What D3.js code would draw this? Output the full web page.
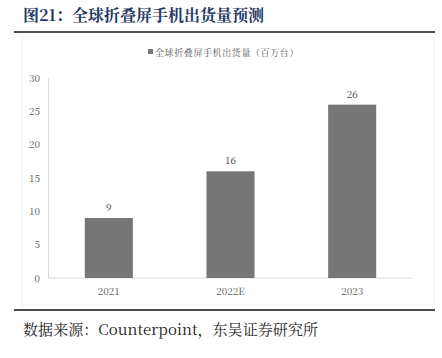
<!DOCTYPE html>
<html><head><meta charset="utf-8">
<script src="https://cdn.jsdelivr.net/npm/d3@7"></script>
<style>body{margin:0;background:#fff;}svg{display:block;}</style>
</head><body>
<svg id="c" width="442" height="358"></svg>
<script>
const categories = ["2021", "2022E", "2023"];
const shipments = [9, 16, 26];
const yTicks = [0, 5, 10, 15, 20, 25, 30];
const titleText = "图21：全球折叠屏手机出货量预测";
const legendText = "全球折叠屏手机出货量（百万台）";
const sourceText = "数据来源：Counterpoint，东吴证券研究所";

const svg = d3.select("#c");
const serif = "'Noto Serif CJK SC',serif";
const song = "'Noto Serif CJK SC',serif";

svg.append("text").attr("x", 23).attr("y", 21)
  .attr("font-family", song).attr("font-weight", "bold").attr("font-size", 16)
  .attr("fill", "#1f3864").text(titleText);
svg.append("line").attr("x1", 14).attr("x2", 435).attr("y1", 32).attr("y2", 32)
  .attr("stroke", "#111").attr("stroke-width", 1.6);
svg.append("line").attr("x1", 14).attr("x2", 435).attr("y1", 310).attr("y2", 310)
  .attr("stroke", "#111").attr("stroke-width", 1.6);
svg.append("rect").attr("x", 22).attr("y", 37).attr("width", 412).attr("height", 268)
  .attr("fill", "none").attr("stroke", "#f3f3f3");

const x = d3.scaleBand().domain(categories).range([48, 413]).paddingInner(0.605).paddingOuter(0.3025);
const y = d3.scaleLinear().domain([0, 30]).range([278, 78]);

const ax = svg.append("g").attr("transform", "translate(48,0)")
  .call(d3.axisLeft(y).tickValues(yTicks).tickSize(0).tickPadding(8));
ax.attr("font-family", serif);
ax.select(".domain").attr("stroke", "#d9d9d9");
ax.selectAll("text").attr("font-family", serif).attr("font-size", 10).attr("fill", "#595959");

const bx = svg.append("g").attr("transform", "translate(0,278)")
  .call(d3.axisBottom(x).tickSize(0).tickPadding(10));
bx.attr("font-family", serif);
bx.select(".domain").attr("stroke", "#d9d9d9").attr("d", "M48,0H413");
bx.selectAll("text").attr("font-family", serif).attr("font-size", 10).attr("fill", "#595959");

svg.selectAll(".bar").data(shipments).join("rect").attr("class", "bar")
  .attr("x", (d, i) => x(categories[i])).attr("width", x.bandwidth())
  .attr("y", d => y(d)).attr("height", d => y(0) - y(d)).attr("fill", "#767676");

svg.selectAll(".lbl").data(shipments).join("text").attr("class", "lbl")
  .attr("x", (d, i) => x(categories[i]) + x.bandwidth() / 2).attr("y", d => y(d) - 7)
  .attr("text-anchor", "middle").attr("font-family", serif).attr("font-size", 10)
  .attr("fill", "#404040").text(d => d);

svg.append("rect").attr("x", 148).attr("y", 49).attr("width", 5).attr("height", 5).attr("fill", "#767676");
svg.append("text").attr("x", 155).attr("y", 56).attr("font-family", song).attr("font-size", 9)
  .attr("fill", "#595959").attr("letter-spacing", 0.6).text(legendText);

svg.append("text").attr("x", 23).attr("y", 335).attr("font-family", song).attr("font-size", 15)
  .attr("fill", "#222").attr("textLength", 295).attr("lengthAdjust", "spacing").text(sourceText);
</script>
</body></html>
